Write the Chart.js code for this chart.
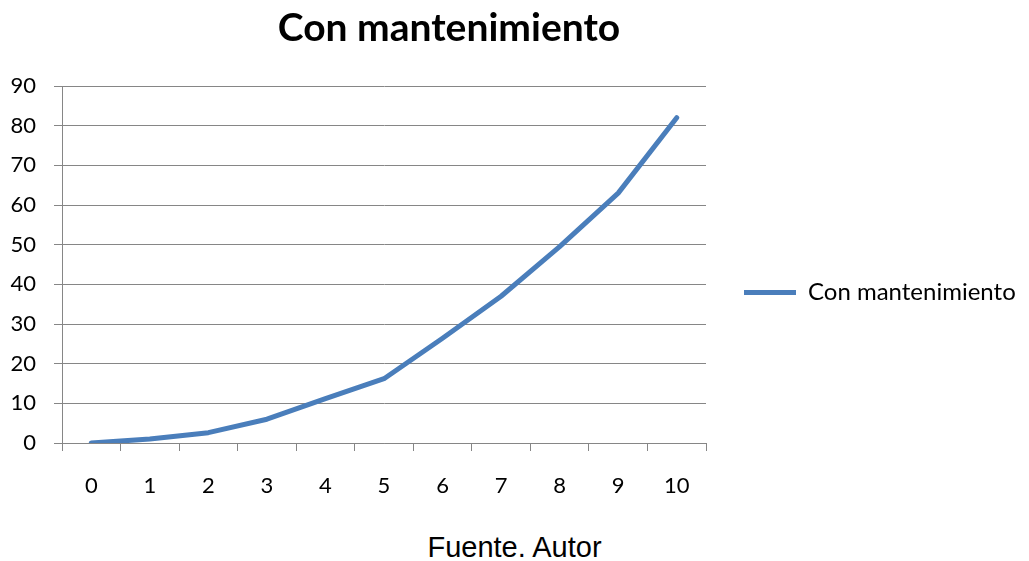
<!DOCTYPE html>
<html>
<head>
<meta charset="utf-8">
<script src="https://cdn.jsdelivr.net/npm/chart.js@4.4.1/dist/chart.umd.min.js"></script>
<style>
  html, body { margin: 0; padding: 0; background: #fff; }
  #page { width: 1029px; height: 561px; position: relative; overflow: hidden; }
  #wrap { width: 1029px; height: 520px; position: absolute; left: 0; top: 0; }
  #fuente {
    position: absolute; left: 0; top: 533px; width: 1029px;
    text-align: center; font-family: 'Liberation Sans', Arial, sans-serif;
    font-size: 29px; line-height: 29px; color: #000;
  }
</style>
</head>
<body>
<div id="page">
  <div id="wrap"><canvas id="chart"></canvas></div>
  <div id="fuente">Fuente. Autor</div>
</div>
<script>
// --- Data ---
const years = ['0', '1', '2', '3', '4', '5', '6', '7', '8', '9', '10'];
const conMantenimiento = [0, 1, 2.6, 6, 11.2, 16.2, 26.4, 37, 49.5, 63, 82];
const yTicks = [0, 10, 20, 30, 40, 50, 60, 70, 80, 90];

const gridGray = '#868686';
const lineBlue = '#4a7ebb';
const tickFont = { family: 'Lato', size: 22 };

// legend box is capped at a quarter of the width; let its text run to the canvas edge
const legendClipFix = {
    id: 'legendClipFix',
    afterLayout(chart) {
        const lg = chart.legend;
        lg.right = chart.width;
        lg.width = lg.right - lg.left;
    }
};

const ctx = document.getElementById('chart').getContext('2d');
new Chart(ctx, {
    type: 'line',
    data: {
        labels: years,
        datasets: [{
            label: 'Con mantenimiento',
            data: conMantenimiento,
            borderColor: lineBlue,
            backgroundColor: lineBlue,
            borderWidth: 5,
            borderCapStyle: 'round',
            borderJoinStyle: 'round',
            pointRadius: 0,
            pointHoverRadius: 0,
            pointStyle: 'line',
            tension: 0
        }]
    },
    plugins: [legendClipFix],
    options: {
        responsive: true,
        maintainAspectRatio: false,
        animation: false,
        // negative left padding shifts the title centre left like the original
        layout: { padding: { left: -65, right: 66, top: 0, bottom: 0 } },
        plugins: {
            title: {
                display: true,
                text: 'Con mantenimiento',
                color: '#000',
                font: { family: 'Lato', size: 39, weight: 'bold', lineHeight: 1.2 },
                padding: { top: 5, bottom: 34.2 }
            },
            legend: {
                display: true,
                position: 'right',
                title: { display: true, text: '', font: { size: 10, lineHeight: 1 }, padding: { top: 55, bottom: 0 } },
                labels: {
                    color: '#000',
                    font: { family: 'Lato', size: 24 },
                    usePointStyle: true,
                    pointStyleWidth: 52,
                    padding: 38
                }
            },
            tooltip: { enabled: false }
        },
        scales: {
            x: {
                type: 'category',
                offset: true,
                grid: { offset: true, drawOnChartArea: false, drawTicks: true, tickLength: 8, color: gridGray },
                border: { display: true, color: gridGray },
                ticks: { color: '#000', font: tickFont, padding: 22, maxRotation: 0 },
                afterFit: (s) => { s.height = 77; }
            },
            y: {
                min: 0,
                max: 90,
                afterBuildTicks: (s) => { s.ticks = yTicks.map(v => ({ value: v })); },
                grid: { color: gridGray, tickLength: 8, drawTicks: true },
                border: { display: true, color: gridGray },
                ticks: { color: '#000', font: tickFont, padding: 18 },
                afterFit: (s) => { s.width = 127; }
            }
        }
    }
});
</script>
</body>
</html>
